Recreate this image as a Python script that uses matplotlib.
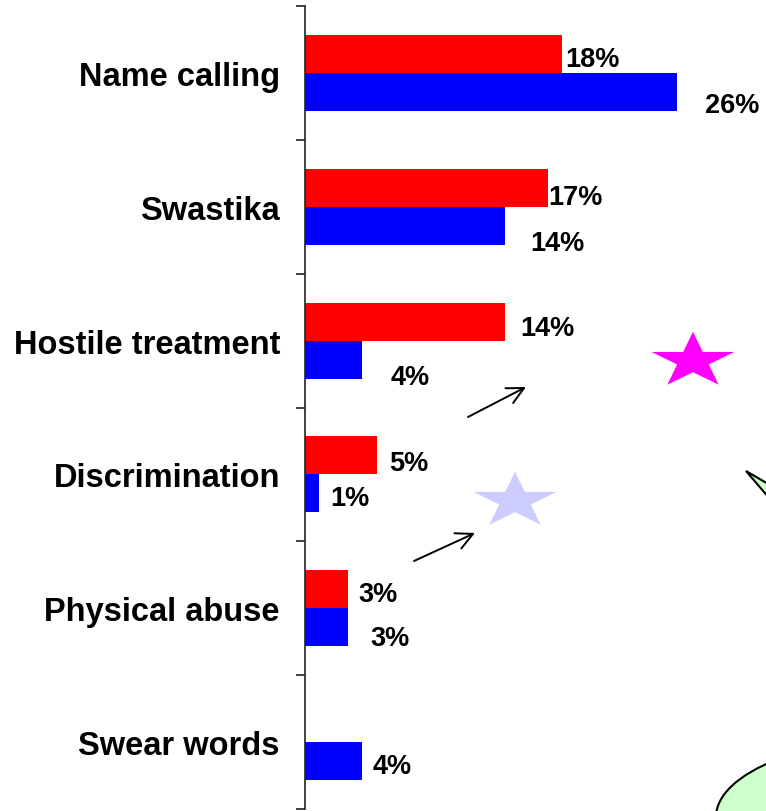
import matplotlib
matplotlib.use('Agg')
import matplotlib.pyplot as plt
import numpy as np
from matplotlib.patches import Polygon, Ellipse, FancyArrowPatch

plt.rcParams['font.family'] = ['Liberation Sans', 'DejaVu Sans']
plt.rcParams['font.weight'] = 'bold'

# data, top to bottom
categories = ['Name calling', 'Swastika', 'Hostile treatment',
              'Discrimination', 'Physical abuse', 'Swear words']
red_vals = [18, 17, 14, 5, 3, 0]
blue_vals = [26, 14, 4, 1, 3, 4]

# hand placed label nudges (pixels right, pixels down) from the bar end
red_nudge = [(3, 2), (0, 6), (15, 3), (13, 5), (10, 2), (0, 0)]
blue_nudge = [(28, 10), (25, 14), (28, 14), (11, 2), (22, 8), (10, 2)]

W, H = 766, 812
fig = plt.figure(figsize=(W / 100, H / 100), dpi=100)
ax = fig.add_axes([305 / W, 1 - 810 / H, 1 - 305 / W, (810 - 7) / H])

y = np.arange(len(categories))
bh = 0.284
ax.barh(y - bh / 2, red_vals, height=bh, color='#FF0000')
ax.barh(y + bh / 2, blue_vals, height=bh, color='#0000FF')

ax.set_xlim(0, 461 / 14.3)
ax.set_ylim(len(categories) - 0.5, -0.5)

# value labels
for i in range(len(categories)):
    if red_vals[i] > 0:
        dx, dy = red_nudge[i]
        ax.annotate(f'{red_vals[i]}%', (red_vals[i], y[i] - bh / 2),
                    xytext=(dx, -dy), textcoords='offset pixels',
                    ha='left', va='center_baseline', fontsize=19.5,
                    fontweight='bold', annotation_clip=False)
    if blue_vals[i] > 0:
        dx, dy = blue_nudge[i]
        ax.annotate(f'{blue_vals[i]}%', (blue_vals[i], y[i] + bh / 2),
                    xytext=(dx, -dy), textcoords='offset pixels',
                    ha='left', va='center_baseline', fontsize=19.5,
                    fontweight='bold', annotation_clip=False)

# axis: tick marks at group borders, labels at group centres
ax.set_yticks(np.arange(-0.5, len(categories)), labels=[])
ax.set_yticks(y, labels=categories, minor=True)
ax.tick_params(axis='y', which='major', length=6.5, width=1.2, color='#222222', direction='out')
ax.tick_params(axis='y', which='minor', length=0, pad=18, labelsize=23.5)
for lab in ax.get_yticklabels(minor=True):
    lab.set_fontweight('bold')
ax.set_xticks([])
for s in ['top', 'right', 'bottom']:
    ax.spines[s].set_visible(False)
ax.spines['left'].set_linewidth(1.2)
ax.spines['left'].set_color('#222222')


# decorations, placed in figure pixels
def fx(px):
    return px / W


def fy(py):
    return 1 - py / H


def star(cx, cy, rx, ry):
    pts = []
    for k in range(10):
        ang = np.pi / 2 + k * np.pi / 5
        r = 1.0 if k % 2 == 0 else 0.382
        pts.append((fx(cx + rx * r * np.cos(ang)), fy(cy - ry * r * np.sin(ang))))
    return pts


fig.patches.append(Polygon(star(693, 362, 43.6, 29.3), closed=True,
                           facecolor='#FF00FF', edgecolor='none',
                           transform=fig.transFigure))
fig.patches.append(Polygon(star(515, 502, 43.6, 29.3), closed=True,
                           facecolor='#CCCCFF', edgecolor='none',
                           transform=fig.transFigure))

for (x0, y0, x1, y1) in [(468, 418, 526, 388), (414, 562, 475, 534)]:
    fig.patches.append(FancyArrowPatch((fx(x0), fy(y0)), (fx(x1), fy(y1)),
                                       arrowstyle='->,head_length=12,head_width=6',
                                       color='black', lw=1.4,
                                       shrinkA=0, shrinkB=0,
                                       transform=fig.transFigure))

fig.patches.append(Polygon([(fx(746), fy(472)), (fx(770), fy(486)), (fx(770), fy(500))],
                           closed=True, facecolor='#CCFFCC', edgecolor='black',
                           lw=1.5, transform=fig.transFigure))
fig.patches.append(Ellipse((fx(925), fy(818)), 418 / W, 163 / H,
                           facecolor='#CCFFCC', edgecolor='black', lw=1.5,
                           transform=fig.transFigure))

fig.savefig('out.png', dpi=100)
